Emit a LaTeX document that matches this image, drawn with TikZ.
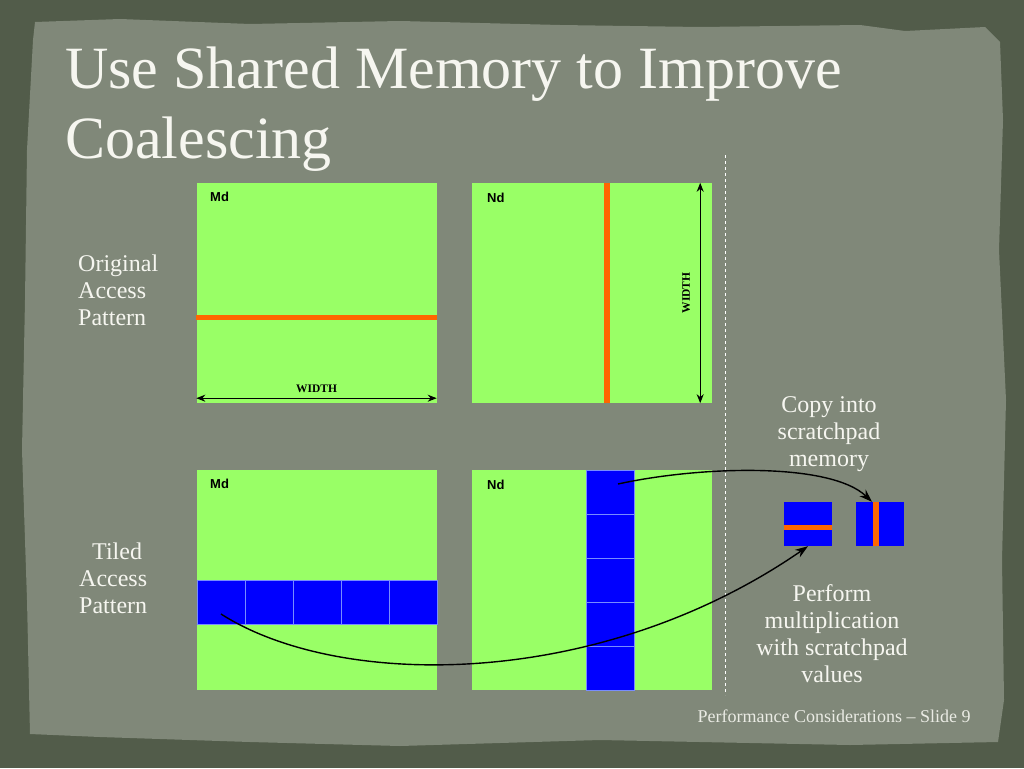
\documentclass[tikz,border=0pt]{standalone}
\usepackage{fontspec}
\setmainfont{Liberation Serif}
\newfontfamily\labelsans{Liberation Sans}
\usetikzlibrary{arrows.meta}

\definecolor{outerbg}{RGB}{82,92,74}
\definecolor{paper}{RGB}{128,136,121}
\definecolor{matgreen}{RGB}{153,255,102}
\definecolor{tileblue}{RGB}{0,0,255}
\definecolor{tileedge}{RGB}{120,140,255}
\definecolor{accent}{RGB}{255,102,0}
\definecolor{paperwhite}{RGB}{246,246,240}

\begin{document}
\begin{tikzpicture}[x=1pt, y=-1pt,
    matbox/.style={fill=matgreen, minimum width=240pt, minimum height=220pt, inner sep=0pt},
    tile/.style={fill=tileblue, draw=tileedge, line width=0.8pt, minimum width=48pt, minimum height=44pt, inner sep=0pt},
    scratch/.style={fill=tileblue, minimum width=48pt, minimum height=44pt, inner sep=0pt},
    lbl/.style={font=\labelsans\bfseries\fontsize{13}{15}\selectfont, anchor=west, inner sep=0pt},
    dimtext/.style={font=\bfseries\fontsize{11.5}{13}\selectfont, inner sep=0pt},
    dim/.style={{Stealth[length=9pt,width=7pt]}-{Stealth[length=9pt,width=7pt]}, line width=1.3pt},
    flow/.style={-{Stealth[length=13pt,width=9pt]}, line width=1.4pt},
    body/.style={text=paperwhite, inner sep=0pt, font=\fontsize{24}{27}\selectfont}
  ]
  \useasboundingbox (0,0) rectangle (1024,768);
  \fill[outerbg] (0,0) rectangle (1024,768);
  \fill[paper] (35,22) -- (120,19) -- (250,24) -- (400,21) -- (560,25) -- (700,27) -- (860,25)
    -- (905,31) -- (985,27) -- (1000,42) -- (1003,120) -- (999,250) -- (1006,400) -- (1002,560)
    -- (1004,700) -- (998,742) -- (850,745) -- (600,740) -- (400,746) -- (250,742) -- (100,737)
    -- (30,734) -- (27,600) -- (22,450) -- (25,300) -- (27,150) -- (33,40) -- cycle;

  \node[anchor=base west, inner sep=0pt, text=paperwhite, font=\fontsize{60}{70}\selectfont] (title1) at (65,88) {Use Shared Memory to Improve};
  \node[anchor=base west, inner sep=0pt, text=paperwhite, font=\fontsize{60}{70}\selectfont] (title2) at (65,158) {Coalescing};

  \draw[white, line width=1pt, dash pattern=on 3pt off 3pt] (725,155) coordinate (sepa) -- (725,695) coordinate (sepb);

  % original access pattern
  \node[matbox] (mdtop) at (316.5,293) {};
  \node[matbox] (ndtop) at (592,293) {};
  \node[lbl] (mdtoplbl) at (210,197) {Md};
  \node[lbl] (ndtoplbl) at (487,198) {Nd};
  \draw[accent, line width=5pt] ([yshift=-24pt]mdtop.west) -- ([yshift=-24pt]mdtop.east);
  \draw[accent, line width=6pt] ([xshift=15pt]ndtop.north) -- ([xshift=15pt]ndtop.south);
  \draw[dim] ([yshift=5pt]mdtop.south west) -- ([yshift=5pt]mdtop.south east)
    node[midway, above=5pt, dimtext] {WIDTH};
  \draw[dim] ([xshift=-12pt]ndtop.north east) -- ([xshift=-12pt]ndtop.south east)
    node[midway, xshift=-14pt, rotate=90, dimtext] {WIDTH};

  % tiled access pattern
  \node[matbox] (mdbot) at (316.5,580) {};
  \node[matbox] (ndbot) at (592,580) {};
  \foreach \i in {1,...,5} {
    \node[tile] (mt\i) at (173+48*\i, 602) {};
    \node[tile] (nt\i) at (610, 448+44*\i) {};
  }
  \node[lbl] (mdbotlbl) at (210,484) {Md};
  \node[lbl] (ndbotlbl) at (487,485) {Nd};

  \node[scratch] (sa) at (808,524) {};
  \node[scratch] (sb) at (880,524) {};
  \draw[accent, line width=5pt] ([yshift=-3pt]sa.west) -- ([yshift=-3pt]sa.east);
  \draw[accent, line width=6pt] ([xshift=-4pt]sb.north) -- ([xshift=-4pt]sb.south);

  \draw[flow] ([xshift=8pt,yshift=8pt]nt1.center) .. controls (700,466) and (830,462) .. ([xshift=-8pt]sb.north);
  \draw[flow] ([yshift=-12pt]mt1.center) .. controls (340,690) and (600,690) .. (sa.south);

  \node[body, anchor=north west, align=left] (orig) at (78,255) {Original\\Access\\Pattern};
  \node[body, anchor=north west, align=left] (tiled) at (79,543) {\hspace*{13pt}Tiled\\Access\\Pattern};
  \node[body, anchor=north, align=center] (copy) at (829,396) {Copy into\\scratchpad\\memory};
  \node[body, anchor=north, align=center] (perf) at (832,584) {Perform\\multiplication\\with scratchpad\\values};
  \node[anchor=base, inner sep=0pt, text=paperwhite!90!paper, font=\fontsize{18}{20}\selectfont] (footer) at (834,722) {Performance Considerations -- Slide 9};
\end{tikzpicture}
\end{document}
